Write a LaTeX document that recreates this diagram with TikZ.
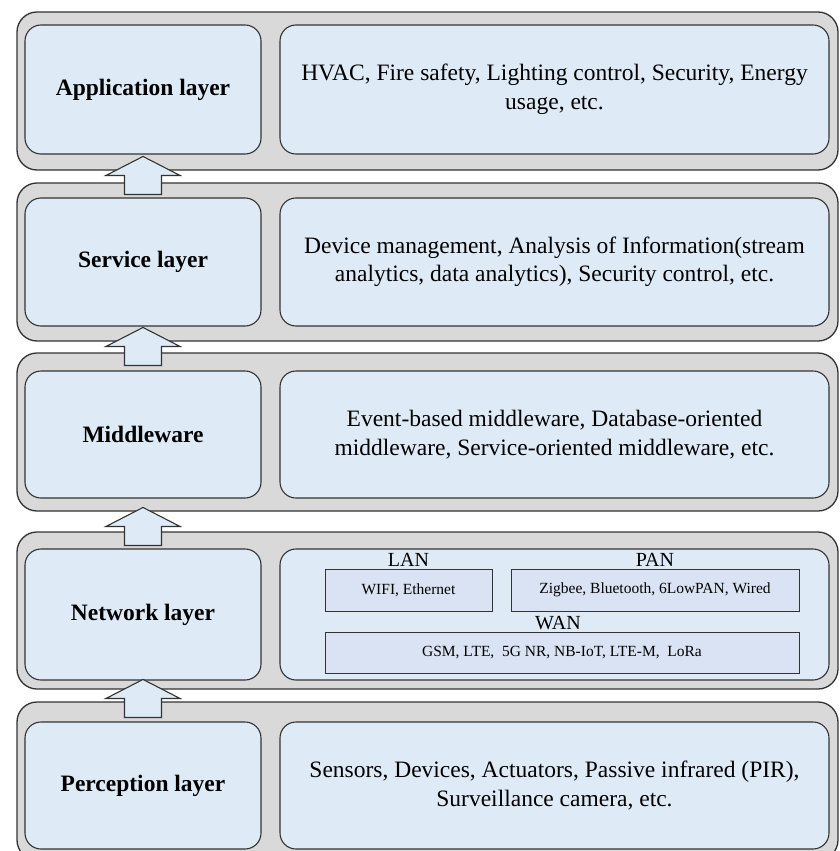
\documentclass[tikz,border=0pt]{standalone}
\usepackage{fontspec}
\setmainfont{Liberation Serif}
\usetikzlibrary{calc}
\definecolor{bandgray}{HTML}{D9D9D9}
\definecolor{boxblue}{HTML}{DEEBF7}
\definecolor{subblue}{HTML}{DAE3F3}
\definecolor{edgegray}{HTML}{333333}

\begin{document}
\begin{tikzpicture}[x=1pt, y=-1pt,
  band/.style={draw=edgegray, fill=bandgray, line width=1.3pt, rounded corners=20pt,
    minimum width=821pt, minimum height=158pt, inner sep=0pt},
  titlebox/.style={draw=edgegray, fill=boxblue, line width=1.1pt, rounded corners=16pt,
    minimum width=236pt, minimum height=129pt, inner sep=0pt, align=center,
    font=\fontsize{23.5}{28}\selectfont\bfseries},
  descbox/.style={draw=edgegray, fill=boxblue, line width=1.1pt, rounded corners=16pt,
    minimum width=549pt, minimum height=129pt, inner sep=0pt, align=center,
    font=\fontsize{23.5}{28.5}\selectfont},
  subbox/.style={draw=edgegray, fill=subblue, line width=1pt, minimum height=42pt,
    inner sep=0pt, font=\fontsize{15.5}{18}\selectfont},
  netlabel/.style={anchor=base, inner sep=0pt, font=\fontsize{20}{24}\selectfont},
  blockarrow/.style={draw=edgegray, fill=boxblue, line width=1.1pt, line join=miter}
]
\path[use as bounding box, clip] (0,0) rectangle (840,851);

% layer bands
\node[band] (b1) at (427.5,91) {};
\node[band] (b2) at (427.5,262) {};
\node[band] (b3) at (427.5,432) {};
\node[band, minimum height=157pt] (b4) at (427.5,610.5) {};
\node[band] (b5) at (427.5,781) {};

% layer names
\node[titlebox] (app) at (143,89.5) {Application layer};
\node[titlebox, minimum height=128pt] (svc) at (143,262) {Service layer};
\node[titlebox, minimum height=127pt] (mid) at (143,434.5) {Middleware};
\node[titlebox, minimum height=131pt] (net) at (143,614.5) {Network layer};
\node[titlebox, minimum height=127pt] (per) at (143,785.5) {Perception layer};

% layer contents
\node[descbox] (appd) at (554.5,89.5)
  {HVAC, Fire safety, Lighting control, Security, Energy\\usage, etc.};
\node[descbox, minimum height=128pt] (svcd) at (554.5,262)
  {Device management, Analysis of Information(stream\\analytics, data analytics), Security control, etc.};
\node[descbox, minimum height=127pt] (midd) at (554.5,434.5)
  {Event-based middleware, Database-oriented\\middleware, Service-oriented middleware, etc.};
\node[descbox, minimum height=131pt] (netd) at (554.5,614.5) {};
\node[descbox, minimum height=127pt] (perd) at (554.5,785.5)
  {Sensors, Devices, Actuators, Passive infrared (PIR),\\Surveillance camera, etc.};

% network technologies
\node[subbox, minimum width=167pt] (lan) at (408.5,590) {WIFI, Ethernet};
\node[subbox, minimum width=288pt] (pan) at (655,590) {Zigbee, Bluetooth, 6LowPAN, Wired};
\node[subbox, minimum width=474pt, minimum height=41pt] (wan) at (562,652.5)
  {GSM, LTE,\ \ 5G NR, NB-IoT, LTE-M,\ \ LoRa};
\node[netlabel] (lanl) at ($(lan.north)+(0,-2)$) {LAN};
\node[netlabel] (panl) at ($(pan.north)+(0,-2)$) {PAN};
\node[netlabel] (wanl) at ($(wan.north)+(-4,-2)$) {WAN};

% upward block arrows between layers
\foreach \lower/\upper/\gap in {svc/app/41, mid/svc/43, net/mid/41, per/net/42}{
  \coordinate (tip-\lower) at ($(\lower.north)+(0,-\gap)$);
  \draw[blockarrow] (tip-\lower) -- ++(37,19) -- ++(-18.5,0) -- ++(0,19)
    -- ++(-37,0) -- ++(0,-19) -- ++(-18.5,0) -- cycle;
}
\end{tikzpicture}
\end{document}
